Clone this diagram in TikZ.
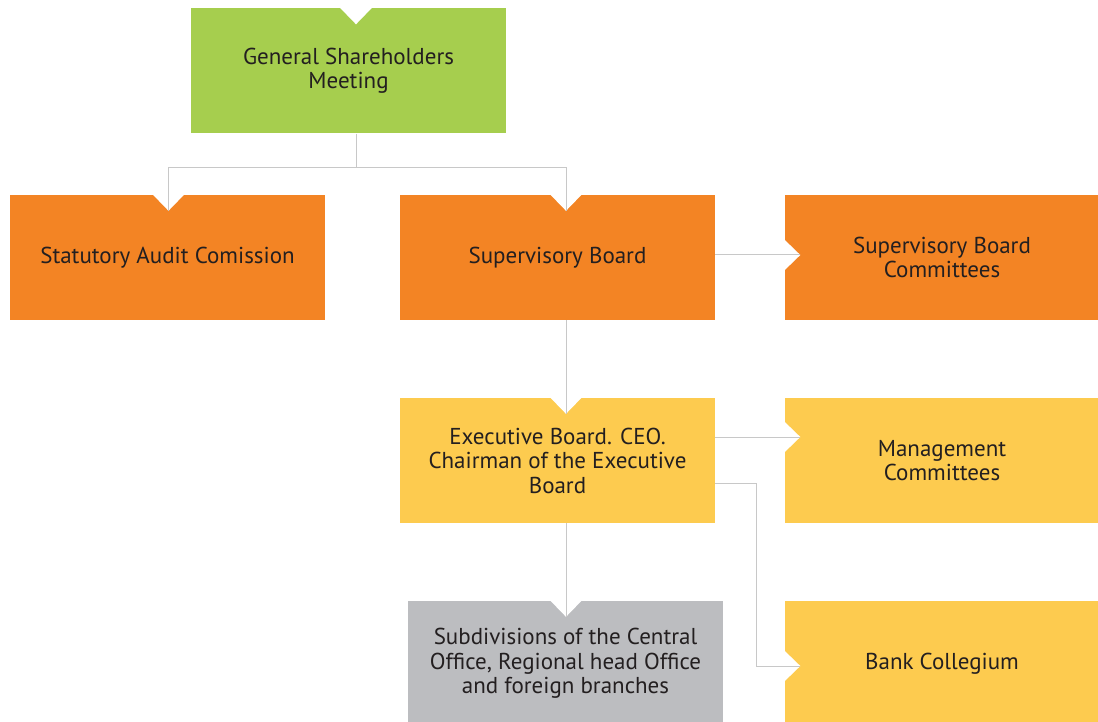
\documentclass[tikz,border=0pt]{standalone}
\usepackage{fontspec}
\setmainfont{PT Sans}
\usetikzlibrary{positioning}
\definecolor{gsmgreen}{RGB}{166,206,78}
\definecolor{sborange}{RGB}{243,132,36}
\definecolor{ebyellow}{RGB}{253,203,79}
\definecolor{subgray}{RGB}{188,189,192}
\definecolor{linkgray}{RGB}{200,200,200}
\definecolor{textdark}{RGB}{35,31,32}

\begin{document}
\begin{tikzpicture}[node distance=2cm,on grid,
    unit/.style={rectangle,minimum width=315pt,minimum height=125pt,inner sep=0pt,
      align=center,text=textdark,font=\fontsize{23}{24.5}\selectfont},
    link/.style={draw=linkgray,line width=1pt}]
   \useasboundingbox (0,0) rectangle (1098pt,-722pt);
   \node[unit,fill=gsmgreen] (gsm) at (348.5pt,-71pt) {General Shareholders\\Meeting};
   \node[unit,fill=sborange] (sb) [below right=186.5pt and 209pt of gsm] {Supervisory Board};
   \node[unit,fill=sborange] (sac) [left=390pt of sb] {Statutory Audit Comission};
   \node[unit,fill=sborange] (sbc) [right=384.5pt of sb] {Supervisory Board\\Committees};
   \node[unit,fill=ebyellow] (eb) [below=203pt of sb] {Executive Board. CEO.\\Chairman of the Executive\\Board};
   \node[unit,fill=ebyellow] (mc) [right=384.5pt of eb] {Management\\Committees};
   \node[unit,fill=subgray] (sub) [below right=203pt and 8pt of eb] {Subdivisions of the Central\\Office, Regional head Office\\and foreign branches};
   \node[unit,fill=ebyellow] (bc) [below=203pt of mc] {Bank Collegium};
   % notch tips
   \coordinate (gsmin) at ([xshift=7.5pt,yshift=-16pt]gsm.north);
   \coordinate (sacin) at ([xshift=1pt,yshift=-16pt]sac.north);
   \coordinate (sbin) at ([xshift=8.5pt,yshift=-16pt]sb.north);
   \coordinate (ebin) at ([xshift=8.5pt,yshift=-16pt]eb.north);
   \coordinate (subin) at ([xshift=0.5pt,yshift=-16pt]sub.north);
   \coordinate (sbcin) at ([xshift=16pt,yshift=2.5pt]sbc.west);
   \coordinate (mcin) at ([xshift=16pt,yshift=23.5pt]mc.west);
   \coordinate (bcin) at ([xshift=16pt,yshift=-2.5pt]bc.west);
   \foreach \t in {gsmin,sacin,sbin,ebin,subin}
     \fill[white] (\t) -- ++(-16pt,16.5pt) -- ++(32pt,0) -- cycle;
   \foreach \t in {sbcin,mcin,bcin}
     \fill[white] (\t) -- ++(-16.5pt,16pt) -- ++(0,-32pt) -- cycle;
   % connectors
   \path[link]
    ([xshift=7.5pt]gsm.south) -- ++(0,-34pt) -| (sacin)
    ([xshift=7.5pt]gsm.south) -- ++(0,-34pt) -| (sbin)
    ([yshift=2.5pt]sb.east) -- (sbcin)
    ([xshift=8.5pt]sb.south) -- (ebin)
    ([yshift=23.5pt]eb.east) -- (mcin)
    ([yshift=-22.5pt]eb.east) -- ++(41pt,0) |- (bcin)
    ([xshift=8.5pt]eb.south) -- (subin);
\end{tikzpicture}
\end{document}
